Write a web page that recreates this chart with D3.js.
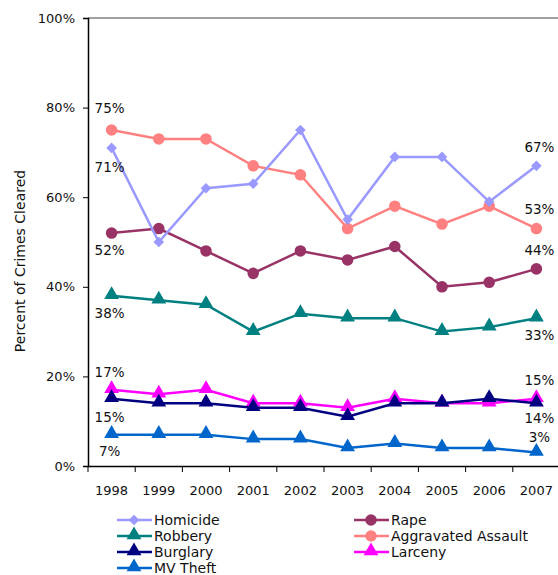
<!DOCTYPE html>
<html>
<head>
<meta charset="utf-8">
<script src="https://cdn.jsdelivr.net/npm/d3@7"></script>
<style>
  body { margin: 0; background: #fff; }
  text { font-family: "DejaVu Sans", sans-serif; font-size: 13px; fill: #111; }
</style>
</head>
<body>
<script>
// years on the x axis
var years = ["1998","1999","2000","2001","2002","2003","2004","2005","2006","2007"];

// percent of crimes cleared, one array per crime
var homicide   = [71, 50, 62, 63, 75, 55, 69, 69, 59, 67];
var rape       = [52, 53, 48, 43, 48, 46, 49, 40, 41, 44];
var robbery    = [38, 37, 36, 30, 34, 33, 33, 30, 31, 33];
var aggravated = [75, 73, 73, 67, 65, 53, 58, 54, 58, 53];
var burglary   = [15, 14, 14, 13, 13, 11, 14, 14, 15, 14];
var larceny    = [17, 16, 17, 14, 14, 13, 15, 14, 14, 15];
var mvTheft    = [7, 7, 7, 6, 6, 4, 5, 4, 4, 3];

var yTicks = [0, 20, 40, 60, 80, 100];

// first / last: vertical offset of the end labels from the point
var series = [
    { name: "Homicide",            values: homicide,   color: "#9999ff", shape: "diamond",  first: 24,  last: -14 },
    { name: "Rape",                values: rape,       color: "#993366", shape: "circle",   first: 22,  last: -14 },
    { name: "Robbery",             values: robbery,    color: "#008080", shape: "triangle", first: 22,  last: 22 },
    { name: "Aggravated Assault",  values: aggravated, color: "#ff8080", shape: "circle",   first: -17, last: -15 },
    { name: "Burglary",            values: burglary,   color: "#000080", shape: "triangle", first: 23,  last: 20 },
    { name: "Larceny",             values: larceny,    color: "#ff00ff", shape: "triangle", first: -13, last: -14 },
    { name: "MV Theft",            values: mvTheft,    color: "#0066cc", shape: "triangle", first: 21,  last: -11 }
];

function run_d3 () {
    var width = 558, height = 575;
    var margin = { left: 88, top: 18, right: -2, bottom: 109 };

    var svg = d3.select("body").append("svg")
        .attr("width", width)
        .attr("height", height);

    var x = d3.scaleBand()
        .domain(years)
        .range([margin.left, width - margin.right]);

    var y = d3.scaleLinear()
        .domain([0, 100])
        .range([height - margin.bottom, margin.top]);

    // top border of the plot area
    svg.append("line")
        .attr("x1", margin.left).attr("x2", width)
        .attr("y1", y(100)).attr("y2", y(100))
        .attr("stroke", "#808080").attr("stroke-width", 1.5);

    // y axis
    var yAxis = svg.append("g")
        .attr("transform", "translate(" + margin.left + ",0)")
        .call(d3.axisLeft(y).tickValues(yTicks).tickSize(5).tickPadding(8)
            .tickFormat(function(d) { return d + "%"; }));
    yAxis.select(".domain").attr("stroke", "#000").attr("stroke-width", 1.5);
    yAxis.selectAll(".tick line").attr("stroke", "#000");
    yAxis.selectAll(".tick text").attr("font-size", 13.5).attr("font-family", "DejaVu Sans").attr("fill", "#111");

    // x axis, ticks between categories
    var xAxis = svg.append("g")
        .attr("transform", "translate(0," + y(0) + ")")
        .call(d3.axisBottom(x).tickSize(0).tickPadding(20));
    xAxis.select(".domain").attr("stroke", "#000").attr("stroke-width", 1.5);
    xAxis.selectAll(".tick text").attr("font-size", 13.5).attr("font-family", "DejaVu Sans").attr("fill", "#111");
    xAxis.selectAll(".sep")
        .data(years)
        .enter()
        .append("line")
        .attr("class", "sep")
        .attr("x1", function(d) { return x(d); })
        .attr("x2", function(d) { return x(d); })
        .attr("y1", 0).attr("y2", 6)
        .attr("stroke", "#000");

    // y axis title
    svg.append("text")
        .attr("transform", "translate(25," + 261 + ") rotate(-90)")
        .attr("text-anchor", "middle")
        .attr("font-size", 14)
        .style("font-size", "14px")
        .text("Percent of Crimes Cleared");

    var cx = function(d, i) { return x(years[i]) + x.bandwidth() / 2; };

    var line = d3.line()
        .x(function(d, i) { return x(years[i]) + x.bandwidth() / 2; })
        .y(function(d) { return y(d); });

    function symbolFor(shape) {
        if (shape == "diamond") return d3.symbol().type(d3.symbolDiamond2).size(72);
        if (shape == "circle") return d3.symbol().type(d3.symbolCircle).size(105);
        return d3.symbol().type(d3.symbolTriangle).size(95);
    }

    // draw back to front so the top of the legend list ends on top
    var drawOrder = series.slice().reverse();
    drawOrder.forEach(function(s) {
        var g = svg.append("g");
        g.append("path")
            .datum(s.values)
            .attr("fill", "none")
            .attr("stroke", s.color)
            .attr("stroke-width", 2.5)
            .attr("d", line);

        var sym = symbolFor(s.shape);
        g.selectAll(".pt")
            .data(s.values)
            .enter()
            .append("path")
            .attr("class", "pt")
            .attr("fill", s.color)
            .attr("d", sym)
            .attr("transform", function(d, i) {
                var dy = s.shape == "triangle" ? -1 : 0;
                return "translate(" + cx(d, i) + "," + (y(d) + dy) + ")";
            });
    });

    // first and last value labels
    series.forEach(function(s) {
        var n = s.values.length;
        [[0, s.first], [n - 1, s.last]].forEach(function(p) {
            var i = p[0], v = s.values[i];
            svg.append("text")
                .attr("x", cx(v, i) + (i == 0 ? -2 : 3))
                .attr("y", y(v) + p[1])
                .attr("text-anchor", "middle")
                .style("font-size", "13.5px")
                .text(v + "%");
        });
    });

    // legend, two columns
    var legend = svg.append("g");
    series.forEach(function(s, i) {
        var col = i % 2, row = Math.floor(i / 2);
        var lx = col == 0 ? 117 : 354;
        var ly = 520 + row * 16;
        var item = legend.append("g").attr("transform", "translate(" + lx + "," + ly + ")");
        item.append("line")
            .attr("x1", 0).attr("x2", 35)
            .attr("y1", 0).attr("y2", 0)
            .attr("stroke", s.color).attr("stroke-width", 2.5);
        item.append("path")
            .attr("d", symbolFor(s.shape))
            .attr("fill", s.color)
            .attr("transform", "translate(17," + (s.shape == "triangle" ? -1 : 0) + ")");
        item.append("text")
            .attr("x", 37)
            .attr("y", 5)
            .style("font-size", "14px")
            .text(s.name);
    });
}

window.onload = run_d3;
</script>
</body>
</html>
